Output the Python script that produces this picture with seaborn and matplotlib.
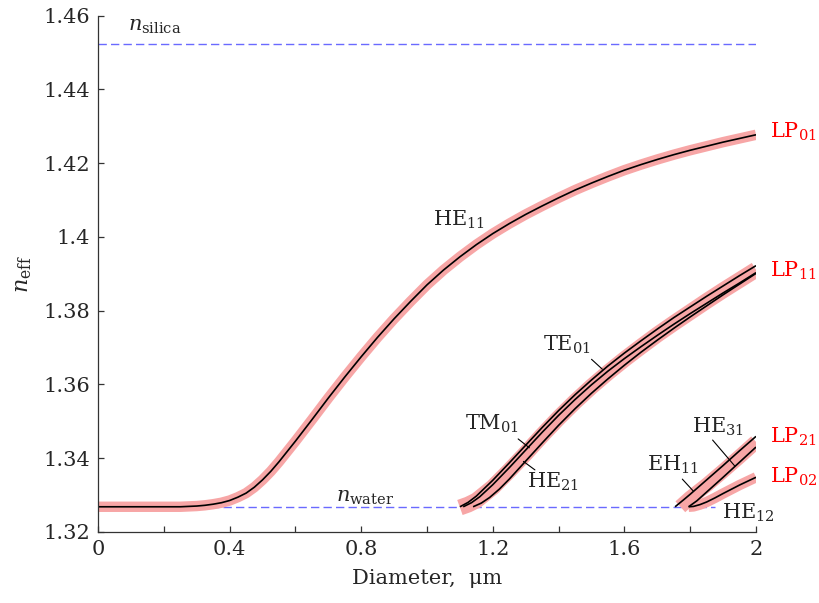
import seaborn as sns
import matplotlib.pyplot as plt
from matplotlib.ticker import MultipleLocator, FuncFormatter

# --- data (diameter in um, effective index) ---
n_silica = 1.4524
n_water = 1.3268
silica_x = [0.0, 2.0]
water_x = [0.0, 1.875]

he11_d = [0.00, 0.25, 0.30, 0.325, 0.35, 0.375, 0.40, 0.425, 0.45, 0.475, 0.50,
          0.525, 0.55, 0.60, 0.65, 0.70, 0.75, 0.80, 0.85, 0.90, 0.95, 1.00,
          1.05, 1.10, 1.15, 1.20, 1.25, 1.30, 1.35, 1.40, 1.45, 1.50, 1.55,
          1.60, 1.65, 1.70, 1.75, 1.80, 1.85, 1.90, 1.95, 2.00]
he11_n = [1.3268, 1.3268, 1.3270, 1.3272, 1.3275, 1.3279, 1.3285, 1.3294, 1.3305,
          1.3321, 1.3341, 1.3364, 1.3390, 1.3446, 1.3504, 1.3563, 1.3620, 1.3675,
          1.3728, 1.3778, 1.3825, 1.3870, 1.3910, 1.3946, 1.3979, 1.4009, 1.4036,
          1.4061, 1.4084, 1.4106, 1.4127, 1.4146, 1.4164, 1.4181, 1.4196, 1.4210,
          1.4223, 1.4235, 1.4246, 1.4257, 1.4267, 1.4277]

te01_d = [1.10, 1.125, 1.15, 1.20, 1.25, 1.30, 1.35, 1.40, 1.45, 1.50, 1.55,
          1.60, 1.65, 1.70, 1.75, 1.80, 1.85, 1.90, 1.95, 2.00]
te01_n = [1.3268, 1.3280, 1.3297, 1.3340, 1.3387, 1.3435, 1.3483, 1.3529, 1.3572,
          1.3612, 1.3650, 1.3685, 1.3718, 1.3750, 1.3781, 1.3810, 1.3839, 1.3867,
          1.3895, 1.3922]

tm01_d = [1.11, 1.135, 1.16, 1.20, 1.25, 1.30, 1.35, 1.40, 1.45, 1.50, 1.55,
          1.60, 1.65, 1.70, 1.75, 1.80, 1.85, 1.90, 1.95, 2.00]
tm01_n = [1.3268, 1.3279, 1.3295, 1.3328, 1.3374, 1.3422, 1.3470, 1.3516, 1.3559,
          1.3599, 1.3636, 1.3670, 1.3702, 1.3733, 1.3763, 1.3792, 1.3820, 1.3848,
          1.3875, 1.3903]

he21_d = [1.14, 1.165, 1.19, 1.22, 1.25, 1.30, 1.35, 1.40, 1.45, 1.50, 1.55,
          1.60, 1.65, 1.70, 1.75, 1.80, 1.85, 1.90, 1.95, 2.00]
he21_n = [1.3268, 1.3278, 1.3293, 1.3316, 1.3343, 1.3392, 1.3441, 1.3489, 1.3534,
          1.3576, 1.3615, 1.3652, 1.3687, 1.3720, 1.3752, 1.3783, 1.3813, 1.3843,
          1.3872, 1.3901]

eh11_d = [1.754, 1.78, 1.80, 1.85, 1.90, 1.95, 2.00]
eh11_n = [1.3268, 1.3287, 1.3302, 1.3341, 1.3380, 1.3420, 1.3459]

he31_d = [1.795, 1.82, 1.85, 1.90, 1.95, 2.00]
he31_n = [1.3268, 1.3284, 1.3308, 1.3348, 1.3389, 1.3430]

he12_d = [1.795, 1.81, 1.83, 1.85, 1.875, 1.90, 1.95, 2.00]
he12_n = [1.3268, 1.3269, 1.3274, 1.3281, 1.3292, 1.3304, 1.3327, 1.3348]

# LP (scalar) modes, drawn as the wide pink bands
lp01_d = he11_d
lp01_n = he11_n
lp11_d = [1.10, 1.125, 1.15, 1.20, 1.25, 1.30, 1.35, 1.40, 1.45, 1.50, 1.55,
          1.60, 1.65, 1.70, 1.75, 1.80, 1.85, 1.90, 1.95, 2.00]
lp11_n = [1.3266, 1.3274, 1.3285, 1.3321, 1.3366, 1.3413, 1.3462, 1.3509, 1.3553,
          1.3594, 1.3632, 1.3668, 1.3702, 1.3735, 1.3766, 1.3796, 1.3826, 1.3855,
          1.3883, 1.3911]
lp21_d = [1.77, 1.80, 1.85, 1.90, 1.95, 2.00]
lp21_n = [1.3268, 1.3292, 1.3327, 1.3365, 1.3404, 1.3444]
lp02_d = he12_d
lp02_n = he12_n

sns.set_theme(style="ticks")
plt.rcParams["font.family"] = ["DejaVu Serif"]
plt.rcParams["mathtext.fontset"] = "dejavuserif"
plt.rcParams["lines.solid_capstyle"] = "butt"
plt.rcParams["lines.solid_joinstyle"] = "round"

fig = plt.figure(figsize=(8.19, 6.03), dpi=100)
ax = fig.add_axes([0.1197, 0.118, 0.8034, 0.856])

band = "#f7a6a6"
dash_col = "#6a6aff"

# reference indices
sns.lineplot(x=silica_x, y=[n_silica] * 2, ax=ax, color=dash_col, lw=1.0,
             linestyle=(0, (6, 3)))
sns.lineplot(x=water_x, y=[n_water] * 2, ax=ax, color=dash_col, lw=1.0,
             linestyle=(0, (6, 3)))

# LP bands
for d, n, w in [(lp01_d, lp01_n, 7.5), (lp11_d, lp11_n, 11.5),
                (lp21_d, lp21_n, 10.5), (lp02_d, lp02_n, 7.5)]:
    sns.lineplot(x=d, y=n, ax=ax, color=band, lw=w, sort=False, estimator=None)

# vector modes
for d, n in [(he11_d, he11_n), (te01_d, te01_n), (tm01_d, tm01_n),
             (he21_d, he21_n), (eh11_d, eh11_n), (he31_d, he31_n),
             (he12_d, he12_n)]:
    sns.lineplot(x=d, y=n, ax=ax, color="black", lw=1.2, sort=False, estimator=None)

fs = 15
ax.text(1.018, 1.4030, r"HE$_{11}$", fontsize=fs)
ax.text(1.354, 1.3691, r"TE$_{01}$", fontsize=fs)
ax.text(1.116, 1.3477, r"TM$_{01}$", fontsize=fs)
ax.text(1.305, 1.3319, r"HE$_{21}$", fontsize=fs)
ax.text(1.670, 1.3366, r"EH$_{11}$", fontsize=fs)
ax.text(1.804, 1.3469, r"HE$_{31}$", fontsize=fs)
ax.text(1.896, 1.3237, r"HE$_{12}$", fontsize=fs)
ax.text(0.092, 1.4560, r"$n_{\mathrm{silica}}$", fontsize=fs)
ax.text(0.723, 1.3282, r"$n_{\mathrm{water}}$", fontsize=fs)

for txt, y in [("LP$_{01}$", 1.4268), ("LP$_{11}$", 1.3893),
               ("LP$_{21}$", 1.3441), ("LP$_{02}$", 1.3334)]:
    ax.text(2.043, y, txt, fontsize=fs, color="red", clip_on=False)

# leader lines from labels to curves
for (x0, y0), (x1, y1) in [((1.500, 1.3668), (1.533, 1.3641)),
                           ((1.277, 1.3452), (1.311, 1.3428)),
                           ((1.293, 1.3391), (1.328, 1.3368)),
                           ((1.776, 1.3343), (1.810, 1.3310)),
                           ((1.868, 1.3449), (1.936, 1.3378))]:
    ax.annotate("", xy=(x1, y1), xytext=(x0, y0),
                arrowprops=dict(arrowstyle="-", lw=0.8, color="black",
                                shrinkA=0, shrinkB=0))

ax.set_xlim(0, 2)
ax.set_ylim(1.32, 1.46)
ax.xaxis.set_major_locator(MultipleLocator(0.4))
ax.xaxis.set_minor_locator(MultipleLocator(0.2))
ax.yaxis.set_major_locator(MultipleLocator(0.02))
ax.xaxis.set_major_formatter(FuncFormatter(lambda v, p: f"{v:g}"))
ax.yaxis.set_major_formatter(FuncFormatter(lambda v, p: f"{round(v, 2):g}"))
ax.tick_params(which="both", direction="in", length=4, width=0.9, color="#333333",
               labelsize=15, pad=6)
sns.despine(ax=ax)
for s in ["left", "bottom"]:
    ax.spines[s].set_color("#333333")
    ax.spines[s].set_linewidth(0.9)

ax.set_xlabel("Diameter,  μm", fontsize=15)
ax.set_ylabel(r"$n_{\mathrm{eff}}$", fontsize=16)
ax.xaxis.set_label_coords(0.5, -0.072)
ax.xaxis.label.set_va("top")
ax.yaxis.set_label_coords(-0.097, 0.5)

fig.savefig("out.png", dpi=100)
